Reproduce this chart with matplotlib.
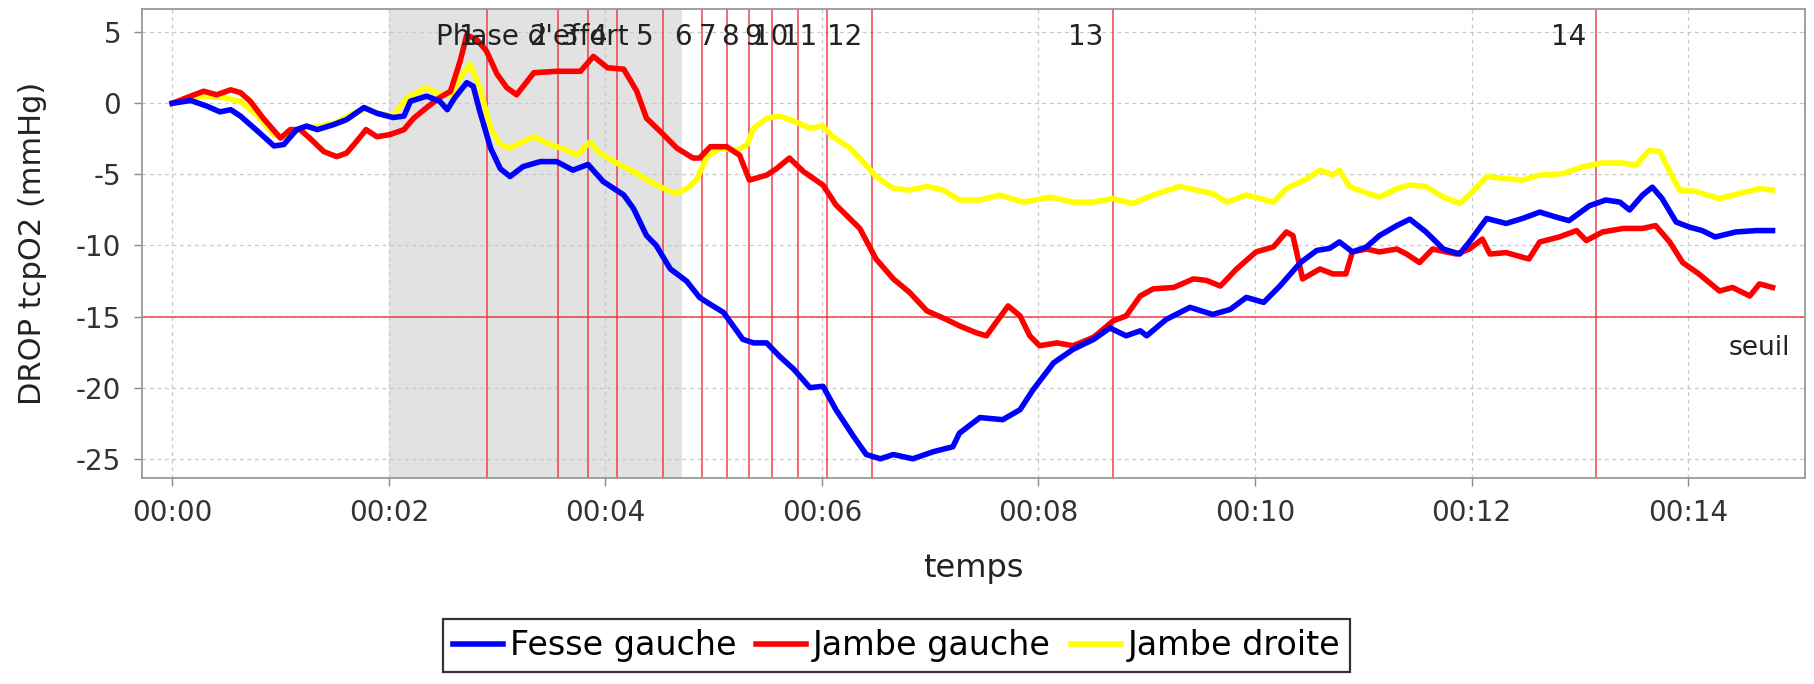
import numpy as np
import matplotlib.pyplot as plt
from matplotlib.ticker import FuncFormatter, MultipleLocator
from matplotlib.lines import Line2D
import matplotlib.transforms as mtransforms

plt.rcParams['font.family'] = ['DejaVu Sans']
plt.rcParams['axes.unicode_minus'] = False

# Time in minutes, values in mmHg
fesse_t = [0, 0.17, 0.32, 0.44, 0.54, 0.63, 0.78, 0.94, 1.03, 1.15, 1.24, 1.34, 1.49, 1.61, 1.77,
           1.89, 2.04, 2.14, 2.20, 2.35, 2.47, 2.54, 2.61, 2.72, 2.78, 2.84, 2.94, 3.03, 3.12, 3.24,
           3.40, 3.55, 3.70, 3.84, 3.98, 4.17, 4.26, 4.38, 4.47, 4.60, 4.75, 4.87, 4.94, 5.09, 5.27,
           5.37, 5.49, 5.61, 5.74, 5.89, 6.01, 6.13, 6.29, 6.41, 6.54, 6.66, 6.84, 7.03, 7.21, 7.27,
           7.46, 7.67, 7.83, 7.95, 8.14, 8.32, 8.51, 8.66, 8.81, 8.94, 9.00, 9.18, 9.40, 9.61, 9.77,
           9.92, 10.08, 10.23, 10.42, 10.57, 10.69, 10.78, 10.90, 11.03, 11.15, 11.31, 11.43, 11.58,
           11.74, 11.89, 11.98, 12.14, 12.32, 12.47, 12.63, 12.78, 12.90, 13.09, 13.24, 13.37, 13.46,
           13.58, 13.67, 13.76, 13.89, 14.01, 14.13, 14.25, 14.44, 14.63, 14.78]
fesse_v = [0, 0.2, -0.2, -0.6, -0.45, -0.9, -1.9, -3.0, -2.9, -1.85, -1.6, -1.85, -1.5, -1.15, -0.3,
           -0.7, -1.0, -0.9, 0.15, 0.5, 0.15, -0.45, 0.4, 1.45, 1.2, -0.55, -3.15, -4.6, -5.15, -4.45,
           -4.1, -4.1, -4.7, -4.3, -5.5, -6.45, -7.4, -9.3, -10.0, -11.65, -12.5, -13.65, -14.0, -14.7, -16.6,
           -16.85, -16.85, -17.8, -18.7, -20.0, -19.9, -21.55, -23.4, -24.7, -25.0, -24.7, -25.0, -24.5, -24.15, -23.2,
           -22.1, -22.25, -21.55, -20.15, -18.25, -17.3, -16.6, -15.8, -16.35, -16.0, -16.35, -15.2, -14.35, -14.85, -14.5,
           -13.65, -14.0, -12.85, -11.2, -10.35, -10.2, -9.75, -10.45, -10.1, -9.3, -8.6, -8.15, -9.05,
           -10.25, -10.6, -9.75, -8.1, -8.45, -8.1, -7.65, -8.0, -8.25, -7.2, -6.8, -6.95, -7.5,
           -6.45, -5.9, -6.7, -8.35, -8.7, -8.95, -9.4, -9.05, -8.95, -8.95]

jg_t = [0, 0.17, 0.29, 0.41, 0.54, 0.63, 0.72, 0.84, 1.0, 1.09, 1.18, 1.27, 1.40, 1.52, 1.61, 1.70,
        1.79, 1.89, 2.01, 2.14, 2.23, 2.35, 2.47, 2.57, 2.66, 2.72, 2.81, 2.90, 3.00, 3.09, 3.18,
        3.34, 3.55, 3.77, 3.89, 4.02, 4.17, 4.29, 4.38, 4.51, 4.66, 4.81, 4.87, 4.97, 5.12, 5.24,
        5.33, 5.49, 5.58, 5.70, 5.83, 6.01, 6.13, 6.35, 6.50, 6.66, 6.81, 6.97, 7.15, 7.27, 7.43,
        7.52, 7.61, 7.72, 7.83, 7.92, 8.01, 8.17, 8.32, 8.51, 8.69, 8.81, 8.94, 9.06, 9.25, 9.43,
        9.55, 9.68, 9.83, 10.01, 10.17, 10.29, 10.35, 10.44, 10.60, 10.72, 10.84, 10.90, 11.03,
        11.15, 11.31, 11.40, 11.52, 11.64, 11.86, 11.98, 12.10, 12.17, 12.32, 12.53, 12.63, 12.81,
        12.97, 13.06, 13.21, 13.40, 13.58, 13.70, 13.83, 13.95, 14.10, 14.29, 14.41, 14.57, 14.66, 14.78]
jg_v = [0, 0.5, 0.85, 0.6, 0.95, 0.75, 0.15, -1.05, -2.45, -1.85, -1.85, -2.45, -3.4, -3.75, -3.5, -2.7,
        -1.85, -2.35, -2.2, -1.85, -1.05, -0.3, 0.4, 0.85, 3.0, 4.8, 4.5, 3.7, 2.05, 1.1, 0.6,
        2.15, 2.25, 2.25, 3.3, 2.5, 2.4, 0.85, -1.05, -2.0, -3.15, -3.85, -3.85, -3.05, -3.05, -3.65,
        -5.4, -5.05, -4.6, -3.85, -4.8, -5.75, -7.15, -8.8, -10.95, -12.35, -13.3, -14.6, -15.2, -15.65, -16.15,
        -16.35, -15.4, -14.25, -14.95, -16.35, -17.05, -16.85, -17.05, -16.45, -15.3, -14.95, -13.55, -13.05, -12.95, -12.35,
        -12.45, -12.85, -11.65, -10.45, -10.1, -9.05, -9.3, -12.35, -11.65, -12.0, -12.0, -10.45, -10.25,
        -10.45, -10.25, -10.6, -11.2, -10.25, -10.6, -10.25, -9.55, -10.6, -10.5, -10.95, -9.75, -9.4,
        -8.95, -9.65, -9.05, -8.8, -8.8, -8.6, -9.75, -11.2, -12.0, -13.2, -12.95, -13.55, -12.7, -12.95]

jd_t = [0, 0.17, 0.32, 0.47, 0.63, 0.78, 0.94, 1.06, 1.18, 1.3, 1.5, 1.7, 1.8, 1.9, 2.04, 2.17,
        2.35, 2.47, 2.57, 2.66, 2.75, 2.84, 2.94, 3.03, 3.12, 3.24, 3.34, 3.49, 3.65, 3.74, 3.86,
        3.95, 4.14, 4.26, 4.41, 4.57, 4.66, 4.75, 4.84, 4.94, 5.06, 5.22, 5.31, 5.37, 5.49, 5.61,
        5.74, 5.89, 6.01, 6.10, 6.26, 6.38, 6.50, 6.66, 6.81, 6.97, 7.12, 7.27, 7.46, 7.64, 7.86,
        8.11, 8.32, 8.51, 8.69, 8.87, 9.06, 9.30, 9.46, 9.61, 9.74, 9.92, 10.05, 10.17, 10.29,
        10.48, 10.60, 10.72, 10.78, 10.87, 10.99, 11.15, 11.31, 11.43, 11.58, 11.74, 11.89, 12.01,
        12.14, 12.32, 12.47, 12.63, 12.84, 13.03, 13.21, 13.40, 13.52, 13.64, 13.74, 13.83, 13.92,
        14.07, 14.29, 14.47, 14.66, 14.78]
jd_v = [0, 0.4, 0.5, 0.4, 0.15, -0.8, -2.2, -2.45, -1.75, -1.7, -1.4, -0.6, -0.4, -0.7, -0.9, 0.4,
        1.1, 0.6, 0.6, 1.8, 2.75, 1.1, -1.75, -2.9, -3.15, -2.7, -2.35, -2.9, -3.3, -3.65, -2.7,
        -3.5, -4.35, -4.8, -5.5, -6.1, -6.35, -6.0, -5.4, -3.75, -3.15, -3.3, -2.9, -1.75, -1.05, -0.9,
        -1.25, -1.75, -1.6, -2.35, -3.15, -4.1, -5.15, -6.0, -6.1, -5.85, -6.1, -6.8, -6.8, -6.45, -6.95,
        -6.6, -6.95, -6.95, -6.7, -7.05, -6.45, -5.85, -6.1, -6.35, -6.95, -6.45, -6.7, -6.95, -6.0,
        -5.3, -4.7, -5.05, -4.7, -5.85, -6.2, -6.6, -6.0, -5.75, -5.85, -6.6, -7.05, -6.2,
        -5.15, -5.3, -5.4, -5.05, -4.95, -4.45, -4.2, -4.2, -4.35, -3.3, -3.4, -4.8, -6.1,
        -6.2, -6.7, -6.35, -6.0, -6.1]

# event markers
event_t = [2.906, 3.561, 3.844, 4.112, 4.537, 4.891, 5.122, 5.328, 5.538, 5.783, 6.045, 6.461, 8.69, 13.15]
event_labels = [str(i) for i in range(1, 15)]
phase_start, phase_end = 2.0, 4.71
phase_label = "Phase d'effort"
seuil = -15

fig = plt.figure(figsize=(18.15, 6.84), dpi=100)
ax = fig.add_axes([0.0782, 0.3012, 0.9163, 0.6856])

ax.axvspan(phase_start, phase_end, color='#e2e2e2', zorder=0.5, lw=0)
for t in event_t:
    ax.axvline(t, color='#f03040', lw=1.2, alpha=0.85, zorder=1.5)
ax.axhline(seuil, color='#f03040', lw=1.2, alpha=0.85, zorder=1.5)

lw = 4.0
ax.plot(jd_t, jd_v, color='#ffff00', lw=lw, zorder=2)
ax.plot(jg_t, jg_v, color='#ff0000', lw=lw, zorder=3)
ax.plot(fesse_t, fesse_v, color='#0000ff', lw=lw, zorder=4)

trans = mtransforms.blended_transform_factory(ax.transData, ax.transAxes)
for t, lab in zip(event_t, event_labels):
    ax.annotate(lab, xy=(t, 1), xycoords=trans, xytext=(-10, -28), textcoords='offset pixels',
                ha='right', va='center', fontsize=20, color='#222222', zorder=5)
ax.annotate(phase_label, xy=((phase_start + phase_end) / 2, 1), xycoords=trans, xytext=(-3, -28),
            textcoords='offset pixels', ha='center', va='center', fontsize=20, color='#222222', zorder=5)
trans2 = mtransforms.blended_transform_factory(ax.transAxes, ax.transData)
ax.annotate('seuil', xy=(1, seuil), xycoords=trans2, xytext=(-15, -31), textcoords='offset pixels',
            ha='right', va='center', fontsize=19, color='#222222')

ax.set_xlim(-0.28, 15.08)
ax.set_ylim(-26.35, 6.63)
ax.xaxis.set_major_locator(MultipleLocator(2))
ax.yaxis.set_major_locator(MultipleLocator(5))
ax.xaxis.set_major_formatter(FuncFormatter(lambda x, p: "00:%02d" % int(round(x))))
ax.grid(True, color='#c8c8c8', lw=0.9, ls=(0, (3, 3)))
ax.set_axisbelow(True)
ax.tick_params(labelsize=20, colors='#333333', length=6, width=1, pad=9)
ax.tick_params(axis='both', color='#888888')
for s in ax.spines.values():
    s.set_color('#999999')
    s.set_linewidth(1.3)

ax.set_xlabel('temps', fontsize=23, color='#222222')
ax.xaxis.set_label_coords(0.5, -0.16)
ax.set_ylabel('DROP tcpO2 (mmHg)', fontsize=22, color='#222222')
ax.yaxis.label.set_va('center')
ax.yaxis.set_label_coords(-0.066, 0.5)

handles = [Line2D([], [], color='#0000ff', lw=lw),
           Line2D([], [], color='#ff0000', lw=lw),
           Line2D([], [], color='#ffff00', lw=lw)]
leg = fig.legend(handles, ['Fesse gauche', 'Jambe gauche', 'Jambe droite'], loc='center',
                 bbox_to_anchor=(0.494, 0.0556), ncol=3, fontsize=24, frameon=True, fancybox=False,
                 handlelength=1.5, handletextpad=0.2, columnspacing=0.6, borderpad=0.3,
                 borderaxespad=0)
leg.get_frame().set_edgecolor('black')
leg.get_frame().set_linewidth(1.6)

plt.savefig('out.png', dpi=100)
